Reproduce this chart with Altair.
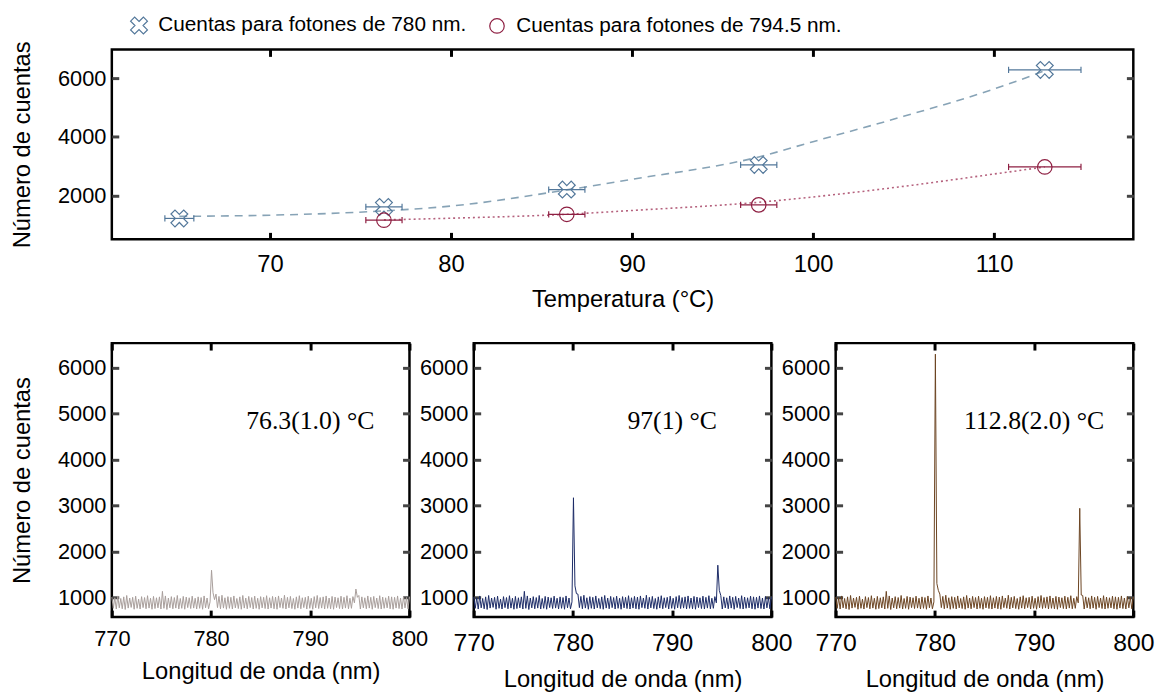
import altair as alt
import pandas as pd

FONT = "Liberation Sans"
SERIF = "Liberation Serif"

# ---------------- top panel data ----------------
SERIES = ["Cuentas para fotones de 780 nm.", "Cuentas para fotones de 794.5 nm."]
T_780 = [65.0, 76.3, 86.4, 97.0, 112.8]
N_780 = [1230, 1620, 2210, 3050, 6280]
ERR_780 = [0.8, 1.0, 1.0, 1.0, 2.0]
T_795 = [76.3, 86.4, 97.0, 112.8]
N_795 = [1170, 1370, 1690, 2980]
ERR_795 = [1.0, 1.0, 1.0, 2.0]
FIT_T_780 = [65, 70, 76.3, 80, 86.4, 90, 97, 100, 105, 110, 112.8]
FIT_N_780 = [1300, 1340, 1486, 1650, 2200, 2560, 3320, 3840, 4700, 5630, 6250]
FIT_T_795 = [76.3, 80, 86.4, 90, 97, 100, 105, 110, 112.8]
FIT_N_795 = [1180, 1237, 1371, 1500, 1780, 1960, 2320, 2740, 2980]
TEMP_TICKS = [70, 80, 90, 100, 110]
TOP_COUNT_TICKS = [2000, 4000, 6000]
TEMP_DOMAIN = [61.27, 117.69]
TOP_COUNT_DOMAIN = [520, 6975]

# ---------------- spectra data ----------------
WL_START, WL_STEP, WL_N = 770.0, 0.15, 201
BASELINE = [
    1005, 760, 990, 745, 1030, 770, 975, 750, 1010, 735,
    1040, 765, 985, 780, 1000, 740, 1025, 760, 960, 745,
    1015, 775, 995, 750, 1035, 765, 980, 740, 1020, 755,
    990, 770, 1010, 745, 1130, 760, 1030, 735, 985, 770,
    1015, 750, 995, 765, 1040, 745, 975, 760, 1020, 740,
    1005, 775, 990, 755, 1025, 765, 980, 745, 1010, 760,
    995, 740, 1030, 770, 985, 750, 880, 880, 880, 880,
    1070, 775, 1020, 750, 1045, 765, 990, 740, 1015, 760,
    1000, 745, 1030, 770, 975, 755, 1010, 740, 1040, 765,
    985, 750, 1020, 775, 995, 745, 1025, 760, 980, 740,
    1015, 770, 1000, 755, 1035, 745, 990, 765, 1020, 750,
    1005, 740, 1030, 775, 985, 760, 1045, 745, 1000, 770,
    1020, 755, 975, 740, 1010, 765, 1035, 750, 990, 775,
    1000, 745, 1025, 760, 980, 740, 1015, 770, 1040, 755,
    995, 765, 1010, 745, 1030, 760, 985, 750, 1020, 740,
    1005, 775, 990, 755, 1025, 745, 1000, 765, 1035, 750,
    980, 760, 1015, 880, 880, 880, 1040, 745, 1010, 770,
    990, 750, 1030, 765, 1000, 740, 1020, 775, 985, 755,
    1035, 745, 1005, 760, 990, 770, 1025, 750, 1010, 740,
    1000, 765, 1030, 755, 985, 745, 1015, 770, 995, 750,
    1010,
]
PEAK_780_START = 66   # 779.9 nm
PEAK_795_START = 163  # 794.45 nm
PEAK_780 = [[900, 1590, 1100, 950], [900, 3170, 1250, 1080], [900, 6300, 1300, 1150]]
PEAK_795 = [[880, 1180, 1000], [880, 1700, 1150], [880, 2940, 1050]]
PANEL_LABELS = ["76.3(1.0) °C", "97(1) °C", "112.8(2.0) °C"]
PANEL_COLORS = ["#a89e9b", "#1b2a66", "#6b4421"]
WL_TICKS = [770, 780, 790, 800]
SPEC_COUNT_TICKS = [1000, 2000, 3000, 4000, 5000, 6000]
WL_DOMAIN = [770, 800]
SPEC_COUNT_DOMAIN = [570, 6540]
LABEL_POS = (790, 4850)

BLUE = "#52779a"
BLUE_LINE = "#87a3b6"
RED = "#8e1f42"
RED_LINE = "#b5617d"
XPATH = ("M0,-0.48L0.52,-1L1,-0.52L0.48,0L1,0.52L0.52,1L0,0.48"
         "L-0.52,1L-1,0.52L-0.48,0L-1,-0.52L-0.52,-1Z")


def tick_axis(orient, values, color):
    return alt.Axis(orient=orient, values=values, offset=-7, tickSize=7, tickWidth=3,
                    tickColor=color, labels=False, domain=False, grid=False, title=None)


def frame_layers(xdom, ydom, xticks, yticks):
    d = pd.DataFrame({"fx": [xdom[0]], "fy": [ydom[0]]})
    xs = alt.Scale(domain=xdom, nice=False, zero=False)
    ys = alt.Scale(domain=ydom, nice=False, zero=False)
    a = alt.Chart(d).mark_point(opacity=0).encode(
        x=alt.X("fx:Q", scale=xs, axis=tick_axis("bottom", xticks, "black")),
        y=alt.Y("fy:Q", scale=ys, axis=tick_axis("left", yticks, "#454545")),
    )
    b = alt.Chart(d).mark_point(opacity=0).encode(
        x=alt.X("fx:Q", scale=xs, axis=tick_axis("top", xticks, "black")),
        y=alt.Y("fy:Q", scale=ys, axis=tick_axis("right", yticks, "#454545")),
    )
    return [a, b]


def x_label_axis(values, title, lsize, lpad, tpad):
    return alt.Axis(orient="bottom", values=values, ticks=False, tickSize=0, domain=False,
                    grid=False, format="d", labelFont=FONT, labelFontSize=lsize,
                    labelPadding=lpad, labelColor="black", labelFlush=False,
                    labelOverlap=False, title=title, titleFont=FONT,
                    titleFontSize=24, titleFontWeight="normal", titleColor="black",
                    titlePadding=tpad)


def y_label_axis(values, title):
    kw = dict(orient="left", values=values, ticks=False, tickSize=0, domain=False,
              grid=False, format="d", labelFont=FONT, labelFontSize=22,
              labelPadding=6, labelColor="black", labelFlush=False, labelOverlap=False)
    if title:
        kw.update(title=title, titleFont=FONT, titleFontSize=24, titleFontWeight="normal",
                  titleColor="black", titlePadding=23)
    else:
        kw.update(title=None)
    return alt.Axis(**kw)


# ---------------- top chart ----------------
tx = alt.Scale(domain=TEMP_DOMAIN, nice=False, zero=False)
ty = alt.Scale(domain=TOP_COUNT_DOMAIN, nice=False, zero=False)

fit780 = pd.DataFrame({"T": FIT_T_780, "N": FIT_N_780})
fit795 = pd.DataFrame({"T": FIT_T_795, "N": FIT_N_795})


def series_df(T, N, E, name):
    return pd.DataFrame({"T": T, "N": N,
                         "lo": [t - e for t, e in zip(T, E)],
                         "hi": [t + e for t, e in zip(T, E)],
                         "serie": [name] * len(T)})


p780 = series_df(T_780, N_780, ERR_780, SERIES[0])
p795 = series_df(T_795, N_795, ERR_795, SERIES[1])
pts = pd.concat([p780, p795], ignore_index=True)

line780 = alt.Chart(fit780).mark_line(color=BLUE_LINE, strokeWidth=1.6, strokeDash=[8, 6],
                                      interpolate="monotone").encode(
    x=alt.X("T:Q", scale=tx, axis=x_label_axis(TEMP_TICKS, "Temperatura (°C)", 24, 14, 11)),
    y=alt.Y("N:Q", scale=ty, axis=y_label_axis(TOP_COUNT_TICKS, "Número de cuentas")),
)
line795 = alt.Chart(fit795).mark_line(color=RED_LINE, strokeWidth=1.6, strokeDash=[2, 3],
                                      interpolate="monotone").encode(
    x=alt.X("T:Q", scale=tx, axis=None),
    y=alt.Y("N:Q", scale=ty, axis=None),
)


def errbars(df, color):
    rule = alt.Chart(df).mark_rule(strokeWidth=1.2, color=color).encode(
        x=alt.X("lo:Q", scale=tx, axis=None), x2="hi:Q",
        y=alt.Y("N:Q", scale=ty, axis=None))
    lo = alt.Chart(df).mark_point(shape="stroke", angle=90, size=40, strokeWidth=1.2,
                                  color=color, opacity=1).encode(
        x=alt.X("lo:Q", scale=tx, axis=None), y=alt.Y("N:Q", scale=ty, axis=None))
    hi = alt.Chart(df).mark_point(shape="stroke", angle=90, size=40, strokeWidth=1.2,
                                  color=color, opacity=1).encode(
        x=alt.X("hi:Q", scale=tx, axis=None), y=alt.Y("N:Q", scale=ty, axis=None))
    return [rule, lo, hi]


leg = alt.Legend(title=None, orient="none", legendX=17, legendY=-35, direction="horizontal",
                 labelFont=FONT, labelFontSize=21, labelColor="black", labelLimit=0,
                 symbolSize=200, symbolStrokeWidth=1.2, labelOffset=9, columnPadding=20,
                 padding=0)
markers = alt.Chart(pts).mark_point(filled=False, strokeWidth=1.2, opacity=1).encode(
    x=alt.X("T:Q", scale=tx, axis=None),
    y=alt.Y("N:Q", scale=ty, axis=None),
    color=alt.Color("serie:N", scale=alt.Scale(domain=SERIES, range=[BLUE, RED]), legend=leg),
    shape=alt.Shape("serie:N", scale=alt.Scale(domain=SERIES, range=[XPATH, "circle"]), legend=leg),
    size=alt.Size("serie:N", scale=alt.Scale(domain=SERIES, range=[290, 215]), legend=None),
)

top = alt.layer(line780, line795, *errbars(p780, BLUE), *errbars(p795, RED), markers,
                *frame_layers(TEMP_DOMAIN, TOP_COUNT_DOMAIN, TEMP_TICKS, TOP_COUNT_TICKS)
                ).resolve_axis(x="independent", y="independent").properties(width=1033, height=192)


# ---------------- spectra panels ----------------
WL = [round(WL_START + WL_STEP * k, 2) for k in range(WL_N)]


def spectrum(i):
    vals = list(BASELINE)
    vals[PEAK_780_START:PEAK_780_START + len(PEAK_780[i])] = PEAK_780[i]
    vals[PEAK_795_START:PEAK_795_START + len(PEAK_795[i])] = PEAK_795[i]
    return vals


def panel(i):
    xs = alt.Scale(domain=WL_DOMAIN, nice=False, zero=False)
    ys = alt.Scale(domain=SPEC_COUNT_DOMAIN, nice=False, zero=False)
    df = pd.DataFrame({"wl": WL, "n": spectrum(i)})
    if i == 0:
        xa = x_label_axis(WL_TICKS, "Longitud de onda (nm)", 22, 12, 10)
    else:
        xa = x_label_axis(WL_TICKS, "Longitud de onda (nm)", 25, 14, 12)
    line = alt.Chart(df).mark_line(color=PANEL_COLORS[i], strokeWidth=1).encode(
        x=alt.X("wl:Q", scale=xs, axis=xa),
        y=alt.Y("n:Q", scale=ys, axis=y_label_axis(SPEC_COUNT_TICKS,
                                                     "Número de cuentas" if i == 0 else None)),
    )
    txt = alt.Chart(pd.DataFrame({"t": [PANEL_LABELS[i]]})).mark_text(
        font=SERIF, fontSize=26, color="black", align="center", baseline="middle").encode(
        x=alt.X(datum=LABEL_POS[0], type="quantitative", scale=xs, axis=None),
        y=alt.Y(datum=LABEL_POS[1], type="quantitative", scale=ys, axis=None),
        text="t:N",
    )
    return alt.layer(line, txt, *frame_layers(WL_DOMAIN, SPEC_COUNT_DOMAIN, WL_TICKS, SPEC_COUNT_TICKS)
                     ).resolve_axis(x="independent", y="independent").properties(width=301, height=277)


bottom = alt.hconcat(panel(0), panel(1), panel(2), spacing=65, bounds="flush")

chart = alt.vconcat(top, bottom, spacing=105, bounds="flush",
                    padding={"left": 1, "top": 3, "right": 5, "bottom": 5}).configure_view(
    stroke="black", strokeWidth=2.5
)

chart.save("out.html", embed_options={"renderer": "svg", "actions": False})
